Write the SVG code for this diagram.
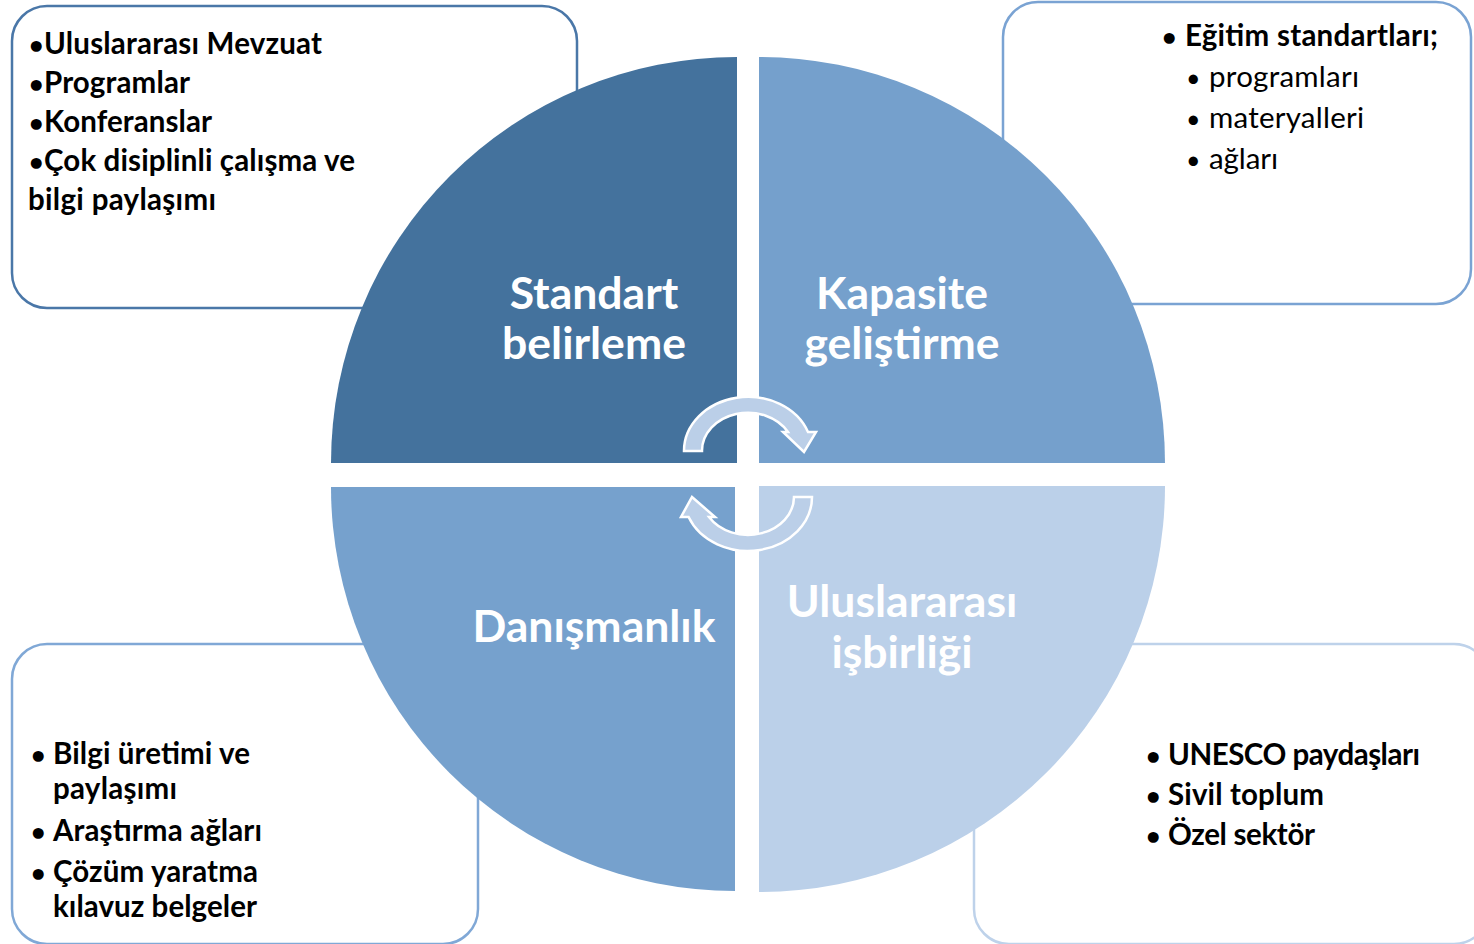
<svg xmlns="http://www.w3.org/2000/svg" width="1474" height="944" viewBox="0 0 1474 944">
<style>
.box{fill:#fff;stroke-width:2.5}
.t{font-family:Lato,"Liberation Sans",sans-serif;font-size:29.5px;font-weight:bold;fill:#000}
.r{font-weight:normal}
.b{font-size:25px}
.lbl{font-family:Lato,"Liberation Sans",sans-serif;font-size:44.5px;font-weight:bold;fill:#fff;text-anchor:middle}
.arr{fill:#BBCFE8;stroke:#fff;stroke-width:2.5;stroke-linejoin:miter}
</style>
<rect width="1474" height="944" fill="#fff"/>
<g id="box-tl">
<rect class="box" x="12" y="6" width="565" height="302" rx="35" stroke="#4A77A8"/>
<text class="t" y="53.5"><tspan class="b" x="29">•</tspan><tspan x="44" textLength="278" lengthAdjust="spacing">Uluslararası Mevzuat</tspan></text>
<text class="t" y="92.5"><tspan class="b" x="29">•</tspan><tspan x="44" textLength="146" lengthAdjust="spacing">Programlar</tspan></text>
<text class="t" y="131.5"><tspan class="b" x="29">•</tspan><tspan x="44" textLength="168" lengthAdjust="spacing">Konferanslar</tspan></text>
<text class="t" y="170.5"><tspan class="b" x="29">•</tspan><tspan x="44" textLength="311" lengthAdjust="spacing">Çok disiplinli çalışma ve</tspan></text>
<text class="t" x="28" y="209.5" textLength="188" lengthAdjust="spacing">bilgi paylaşımı</text>
</g>
<g id="box-tr">
<rect class="box" x="1003" y="2" width="468" height="302" rx="35" stroke="#7AA3D3"/>
<text class="t" y="45.5"><tspan class="b" x="1162">•</tspan><tspan x="1185" textLength="253" lengthAdjust="spacing">Eğitim standartları;</tspan></text>
<text class="t r" y="86.5"><tspan class="b" x="1186">•</tspan><tspan x="1209" textLength="150" lengthAdjust="spacing">programları</tspan></text>
<text class="t r" y="127.5"><tspan class="b" x="1186">•</tspan><tspan x="1209" textLength="155" lengthAdjust="spacing">materyalleri</tspan></text>
<text class="t r" y="168.5"><tspan class="b" x="1186">•</tspan><tspan x="1209" textLength="69" lengthAdjust="spacing">ağları</tspan></text>
</g>
<g id="box-bl">
<rect class="box" x="12" y="644" width="466" height="300" rx="35" stroke="#80A8D6"/>
<text class="t" y="763.5"><tspan class="b" x="31">•</tspan><tspan x="53" textLength="197" lengthAdjust="spacing">Bilgi üretimi ve</tspan></text>
<text class="t" x="53" y="798.5" textLength="124" lengthAdjust="spacing">paylaşımı</text>
<text class="t" y="840.5"><tspan class="b" x="31">•</tspan><tspan x="53" textLength="209" lengthAdjust="spacing">Araştırma ağları</tspan></text>
<text class="t" y="881.5"><tspan class="b" x="31">•</tspan><tspan x="53" textLength="205" lengthAdjust="spacing">Çözüm yaratma</tspan></text>
<text class="t" x="53" y="916.5" textLength="204" lengthAdjust="spacing">kılavuz belgeler</text>
</g>
<g id="box-br">
<rect class="box" x="974" y="644" width="515" height="300" rx="35" stroke="#BED2EA"/>
<text class="t" y="764.5"><tspan class="b" x="1146">•</tspan><tspan x="1168" textLength="252" lengthAdjust="spacing">UNESCO paydaşları</tspan></text>
<text class="t" y="804.5"><tspan class="b" x="1146">•</tspan><tspan x="1168" textLength="156" lengthAdjust="spacing">Sivil toplum</tspan></text>
<text class="t" y="844.5"><tspan class="b" x="1146">•</tspan><tspan x="1168" textLength="147" lengthAdjust="spacing">Özel sektör</tspan></text>
</g>
<g id="q-standart">
<path d="M737,463 L331,463 A406,406 0 0 1 737,57 Z" fill="#44729D"/>
<text class="lbl" x="594" y="309">Standart</text>
<text class="lbl" x="594" y="359">belirleme</text>
</g>
<g id="q-kapasite">
<path d="M759,463 L759,57 A406,406 0 0 1 1165,463 Z" fill="#75A0CC"/>
<text class="lbl" x="902" y="309">Kapasite</text>
<text class="lbl" x="902" y="359">geliştirme</text>
</g>
<g id="q-danismanlik">
<path d="M735,487 L735,891 A404,404 0 0 1 331,487 Z" fill="#76A1CD"/>
<text class="lbl" x="594" y="642">Danışmanlık</text>
</g>
<g id="q-isbirligi">
<path d="M759,486 L1165,486 A406,406 0 0 1 759,892 Z" fill="#BBD0E9"/>
<text class="lbl" x="902" y="617">Uluslararası</text>
<text class="lbl" x="902" y="668">işbirliği</text>
</g>
<g id="connectors">
<path class="arr" d="M684,451 A64,54 0 0 1 808,432 L816,432 L804,452 L783,432 L788,432 A46,38 0 0 0 702,451 Z"/>
<path class="arr" d="M812,497 A64,54 0 0 1 688.6,517 L681,517 L692,497 L715,517 L709,517 A46,38 0 0 0 794,497 Z"/>
</g>
</svg>
